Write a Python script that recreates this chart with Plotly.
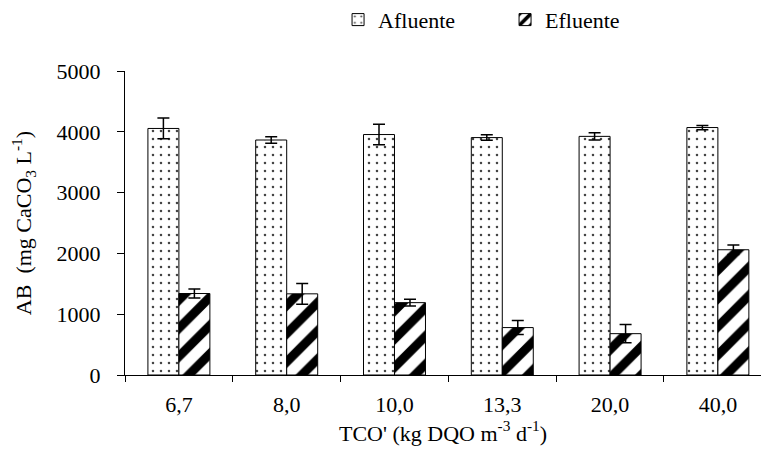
import plotly.graph_objects as go

# Organic loading rate categories (x axis)
categories = ["6,7", "8,0", "10,0", "13,3", "20,0", "40,0"]

# Bicarbonate alkalinity, mg CaCO3 / L
afluente = [4055, 3865, 3955, 3905, 3925, 4070]
afluente_err = [170, 55, 170, 45, 60, 35]
efluente = [1340, 1335, 1190, 780, 680, 2060]
efluente_err = [75, 170, 55, 115, 150, 80]

y_ticks = [0, 1000, 2000, 3000, 4000, 5000]

FONT = "'Times New Roman', 'Liberation Serif', Times, serif"
FSIZE = 22

fig = go.Figure()

fig.add_trace(go.Bar(
    name="Afluente",
    x=categories,
    y=afluente,
    error_y=dict(type="data", array=afluente_err, color="black", thickness=1.5, width=6),
    marker=dict(
        color="white",
        line=dict(color="black", width=1),
        pattern=dict(shape=".", fgcolor="#444444", fgopacity=1, bgcolor="white",
                     size=8, solidity=0.08),
    ),
))

fig.add_trace(go.Bar(
    name="Efluente",
    x=categories,
    y=efluente,
    error_y=dict(type="data", array=efluente_err, color="black", thickness=1.5, width=6),
    marker=dict(
        color="white",
        line=dict(color="black", width=1),
        pattern=dict(shape="/", fgcolor="black", fgopacity=1, bgcolor="white",
                     size=20, solidity=0.45),
    ),
))

fig.update_layout(
    width=761,
    height=450,
    margin=dict(l=125, r=0, t=71, b=75),
    paper_bgcolor="white",
    plot_bgcolor="white",
    font=dict(family=FONT, size=FSIZE, color="black"),
    barmode="group",
    bargap=0.425,
    bargroupgap=0,
    showlegend=True,
    legend=dict(
        orientation="h",
        xref="paper",
        x=0.335,
        xanchor="left",
        yref="container",
        y=0.956,
        yanchor="middle",
        font=dict(family=FONT, size=FSIZE, color="black"),
        entrywidth=122,
        entrywidthmode="pixels",
        itemclick=False,
        bgcolor="rgba(0,0,0,0)",
    ),
    xaxis=dict(
        type="category",
        range=[-0.5, 5.4],
        showline=True,
        linecolor="black",
        linewidth=1,
        ticks="outside",
        tickson="boundaries",
        ticklen=6,
        tickcolor="black",
        showgrid=False,
        ticklabelstandoff=10,
        tickfont=dict(family=FONT, size=FSIZE),
        title=dict(text="TCO' (kg DQO m<sup>-3</sup> d<sup>-1</sup>)",
                   font=dict(family=FONT, size=FSIZE), standoff=2),
    ),
    yaxis=dict(
        range=[0, 5000],
        tickvals=y_ticks,
        showline=True,
        linecolor="black",
        linewidth=1,
        ticks="outside",
        ticklen=7,
        tickcolor="black",
        showgrid=False,
        zeroline=False,
        ticklabelstandoff=12,
        tickfont=dict(family=FONT, size=FSIZE),
        title=dict(text="AB  (mg CaCO<sub>3</sub> L<sup>-1</sup>)",
                   font=dict(family=FONT, size=FSIZE), standoff=18),
    ),
)

fig.write_html("out.html")
